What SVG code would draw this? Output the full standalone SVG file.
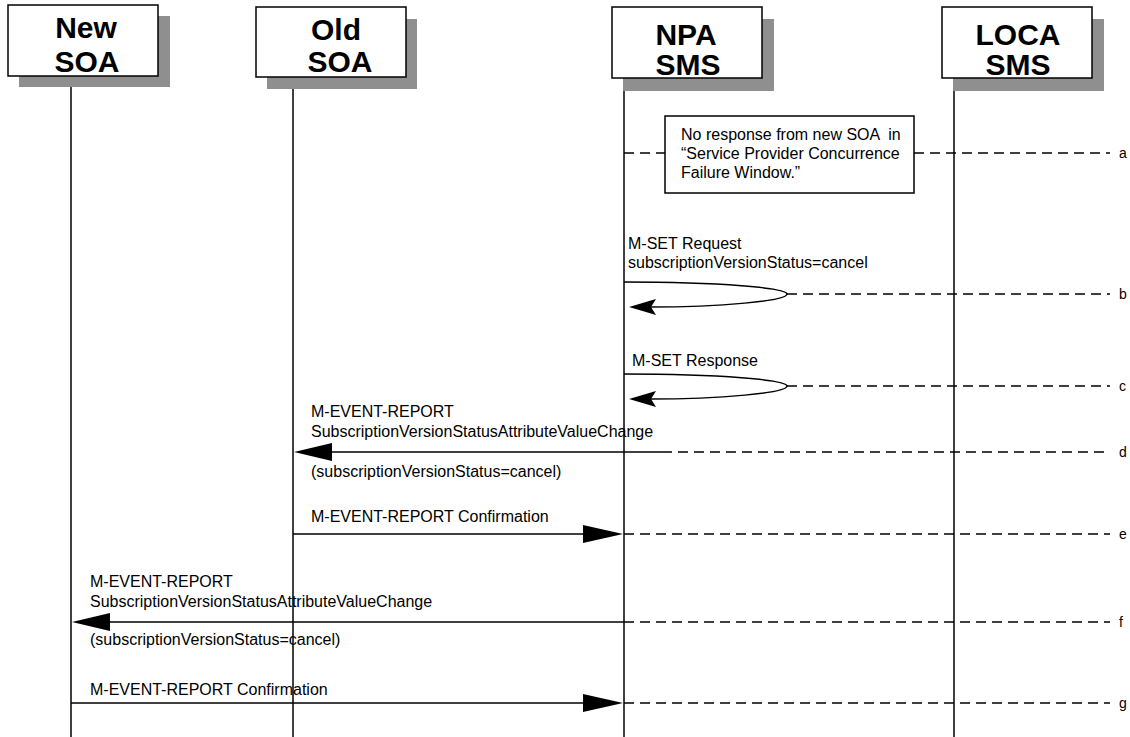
<svg xmlns="http://www.w3.org/2000/svg" width="1130" height="737" viewBox="0 0 1130 737">
<style>
.hdr{fill:#fff;stroke:#000;stroke-width:1.5}
.shd{fill:#8f8f8f}
.ht{font-family:"Liberation Sans",Arial,sans-serif;font-weight:bold;font-size:30px;text-anchor:middle;fill:#000}
.life{stroke:#000;stroke-width:1.5;fill:none}
.msg{stroke:#000;stroke-width:1.5;fill:none}
.dash{stroke:#000;stroke-width:1.5;fill:none;stroke-dasharray:10 6}
.t{font-family:"Liberation Sans",Arial,sans-serif;font-size:16px;fill:#000;white-space:pre}
.lbl{font-family:"Liberation Sans",Arial,sans-serif;font-size:14px;fill:#000}
.ah{fill:#000;stroke:none}
</style>
<rect width="1130" height="737" fill="#fff"/>
<g id="lifelines">
<line class="life" x1="71" y1="87" x2="71" y2="737"/>
<line class="life" x1="293" y1="89" x2="293" y2="737"/>
<line class="life" x1="624" y1="91" x2="624" y2="737"/>
<line class="life" x1="954" y1="91" x2="954" y2="737"/>
</g>
<g id="node-newsoa">
<rect class="shd" x="19" y="16" width="151" height="71"/>
<rect class="hdr" x="8" y="5" width="150" height="71"/>
<text class="ht" x="86" y="38">New</text>
<text class="ht" x="87" y="72">SOA</text>
</g>
<g id="node-oldsoa">
<rect class="shd" x="267" y="19" width="150" height="70"/>
<rect class="hdr" x="256" y="7" width="150" height="70"/>
<text class="ht" x="336" y="40">Old</text>
<text class="ht" x="340" y="72">SOA</text>
</g>
<g id="node-npasms">
<rect class="shd" x="623" y="19" width="151" height="72"/>
<rect class="hdr" x="612" y="7" width="150" height="71"/>
<text class="ht" x="686" y="45">NPA</text>
<text class="ht" x="688" y="75">SMS</text>
</g>
<g id="node-locasms">
<rect class="shd" x="953" y="19" width="151" height="72"/>
<rect class="hdr" x="942" y="7" width="150" height="71"/>
<text class="ht" x="1018" y="45">LOCA</text>
<text class="ht" x="1018" y="75">SMS</text>
</g>
<g id="note">
<rect class="hdr" x="665" y="116" width="249" height="77"/>
<text class="t" x="681" y="140">No response from new SOA  in</text>
<text class="t" x="681" y="159">“Service Provider Concurrence</text>
<text class="t" x="681" y="178">Failure Window.”</text>
</g>
<g id="connectors">
<!-- a -->
<line class="dash" x1="624" y1="153" x2="665" y2="153"/>
<line class="dash" x1="914" y1="153" x2="1110" y2="153"/>
<!-- b -->
<path class="msg" d="M624,282 C720,282 787,288 787,294 C787,301 720,307 650,307"/>
<polygon class="ah" points="629,307 656,299 651,307 656,315"/>
<line class="dash" x1="787" y1="294" x2="1110" y2="294"/>
<!-- c -->
<path class="msg" d="M624,374 C720,374 787,380 787,386 C787,393 720,399 650,399"/>
<polygon class="ah" points="629,399 656,391 651,399 656,407"/>
<line class="dash" x1="787" y1="386" x2="1110" y2="386"/>
<!-- d -->
<line class="msg" x1="662" y1="452" x2="320" y2="452"/>
<polygon class="ah" points="294,452 332,443 332,461"/>
<line class="dash" x1="662" y1="452" x2="1110" y2="452"/>
<!-- e -->
<line class="msg" x1="293" y1="534" x2="590" y2="534"/>
<polygon class="ah" points="623,534 583,525 583,543"/>
<line class="dash" x1="624" y1="534" x2="1110" y2="534"/>
<!-- f -->
<line class="msg" x1="624" y1="622" x2="100" y2="622"/>
<polygon class="ah" points="72,622 110,613 110,631"/>
<line class="dash" x1="624" y1="622" x2="1110" y2="622"/>
<!-- g -->
<line class="msg" x1="71" y1="703" x2="590" y2="703"/>
<polygon class="ah" points="623,703 583,694 583,712"/>
<line class="dash" x1="624" y1="703" x2="1110" y2="703"/>
</g>
<g id="labels">
<text class="t" x="628" y="249">M-SET Request</text>
<text class="t" x="628" y="268">subscriptionVersionStatus=cancel</text>
<text class="t" x="632" y="366">M-SET Response</text>
<text class="t" x="311" y="417">M-EVENT-REPORT</text>
<text class="t" x="311" y="437">SubscriptionVersionStatusAttributeValueChange</text>
<text class="t" x="311" y="477">(subscriptionVersionStatus=cancel)</text>
<text class="t" x="311" y="522">M-EVENT-REPORT Confirmation</text>
<text class="t" x="90" y="587">M-EVENT-REPORT</text>
<text class="t" x="90" y="607">SubscriptionVersionStatusAttributeValueChange</text>
<text class="t" x="90" y="645">(subscriptionVersionStatus=cancel)</text>
<text class="t" x="90" y="695">M-EVENT-REPORT Confirmation</text>
<text class="lbl" x="1119" y="158">a</text>
<text class="lbl" x="1119" y="299">b</text>
<text class="lbl" x="1119" y="391">c</text>
<text class="lbl" x="1119" y="457">d</text>
<text class="lbl" x="1119" y="539">e</text>
<text class="lbl" x="1119" y="627">f</text>
<text class="lbl" x="1119" y="708">g</text>
</g>
</svg>
